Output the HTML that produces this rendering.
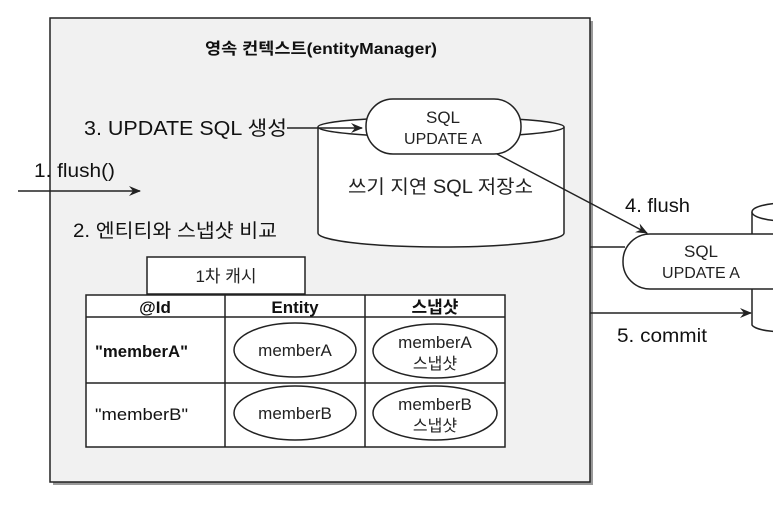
<!DOCTYPE html>
<html><head><meta charset="utf-8"><style>
html,body{margin:0;padding:0;background:#fff;}
svg{display:block;font-family:"Liberation Sans","Noto Sans CJK KR",sans-serif;}
</style></head><body>
<svg width="773" height="510" viewBox="0 0 773 510" xmlns="http://www.w3.org/2000/svg">
<defs>
<marker id="ah" markerWidth="12" markerHeight="10" refX="11" refY="5" orient="auto" markerUnits="userSpaceOnUse">
<path d="M0,0 L12,5 L0,10 L4,5 Z" fill="#222"/>
</marker>
</defs>
<rect x="53" y="21" width="540" height="464" fill="#999"/>
<rect x="50" y="18" width="540" height="464" fill="#f1f1f1" stroke="#222" stroke-width="1.5"/>
<text x="205" y="54" font-size="16" font-weight="bold" fill="#111" textLength="232" lengthAdjust="spacingAndGlyphs">영속 컨텍스트(entityManager)</text>

<!-- cylinder -->
<path d="M318,127 L318,233 A123,14 0 0 0 564,233 L564,127" fill="#fff" stroke="#222" stroke-width="1.5"/>
<ellipse cx="441" cy="127" rx="123" ry="10" fill="#fff" stroke="#222" stroke-width="1.5"/>
<rect x="366" y="99" width="155" height="55" rx="27" fill="#fff" stroke="#222" stroke-width="1.5"/>
<text x="443" y="123" text-anchor="middle" font-size="17" fill="#222">SQL</text>
<text x="443" y="144" text-anchor="middle" font-size="16" fill="#222">UPDATE A</text>
<text x="348" y="193" font-size="19" fill="#222" textLength="185" lengthAdjust="spacingAndGlyphs">쓰기 지연 SQL 저장소</text>

<text x="84" y="135" font-size="20" fill="#111" textLength="203" lengthAdjust="spacingAndGlyphs">3. UPDATE SQL 생성</text>
<line x1="287" y1="128" x2="362" y2="128" stroke="#222" stroke-width="1.5" marker-end="url(#ah)"/>

<text x="34" y="177" font-size="19" fill="#111" textLength="81" lengthAdjust="spacingAndGlyphs">1. flush()</text>
<line x1="18" y1="191" x2="140" y2="191" stroke="#222" stroke-width="1.5" marker-end="url(#ah)"/>
<text x="73" y="237" font-size="19" fill="#111" textLength="204" lengthAdjust="spacingAndGlyphs">2. 엔티티와 스냅샷 비교</text>

<!-- table -->
<rect x="147" y="257" width="158" height="37" fill="#fff" stroke="#222" stroke-width="1.5"/>
<text x="226" y="282" text-anchor="middle" font-size="17" fill="#222">1차 캐시</text>
<rect x="86" y="295" width="419" height="152" fill="#fff" stroke="#222" stroke-width="1.5"/>
<line x1="86" y1="317" x2="505" y2="317" stroke="#222" stroke-width="1.5"/>
<line x1="86" y1="383" x2="505" y2="383" stroke="#222" stroke-width="1.5"/>
<line x1="225" y1="295" x2="225" y2="447" stroke="#222" stroke-width="1.5"/>
<line x1="365" y1="295" x2="365" y2="447" stroke="#222" stroke-width="1.5"/>
<text x="155" y="313" text-anchor="middle" font-size="17" font-weight="bold" fill="#111">@Id</text>
<text x="295" y="313" text-anchor="middle" font-size="17" font-weight="bold" fill="#111">Entity</text>
<text x="435" y="313" text-anchor="middle" font-size="17" font-weight="bold" fill="#111">스냅샷</text>
<text x="95" y="357" font-size="17" font-weight="bold" fill="#111" textLength="93" lengthAdjust="spacingAndGlyphs">"memberA"</text>
<text x="95" y="420" font-size="17" fill="#111" textLength="93" lengthAdjust="spacingAndGlyphs">"memberB"</text>
<ellipse cx="295" cy="350" rx="61" ry="27" fill="#fff" stroke="#222" stroke-width="1.5"/>
<text x="295" y="356" text-anchor="middle" font-size="17" fill="#222">memberA</text>
<ellipse cx="295" cy="413" rx="61" ry="27" fill="#fff" stroke="#222" stroke-width="1.5"/>
<text x="295" y="419" text-anchor="middle" font-size="17" fill="#222">memberB</text>
<ellipse cx="435" cy="351" rx="62" ry="27" fill="#fff" stroke="#222" stroke-width="1.5"/>
<text x="435" y="348" text-anchor="middle" font-size="17" fill="#222">memberA</text>
<text x="435" y="369" text-anchor="middle" font-size="16" fill="#222">스냅샷</text>
<ellipse cx="435" cy="413" rx="62" ry="27" fill="#fff" stroke="#222" stroke-width="1.5"/>
<text x="435" y="410" text-anchor="middle" font-size="17" fill="#222">memberB</text>
<text x="435" y="431" text-anchor="middle" font-size="16" fill="#222">스냅샷</text>

<!-- right side -->
<path d="M752,212 L752,325 A30,8 0 0 0 800,330 L800,212" fill="#fff" stroke="#222" stroke-width="1.5"/>
<ellipse cx="785" cy="212" rx="33" ry="9" fill="#fff" stroke="#222" stroke-width="1.5"/>
<line x1="590" y1="247" x2="625" y2="247" stroke="#222" stroke-width="1.5"/>
<rect x="623" y="234" width="200" height="55" rx="27" fill="#fff" stroke="#222" stroke-width="1.5"/>
<text x="701" y="257" text-anchor="middle" font-size="17" fill="#222">SQL</text>
<text x="701" y="278" text-anchor="middle" font-size="16" fill="#222">UPDATE A</text>
<line x1="497" y1="154" x2="647" y2="233" stroke="#222" stroke-width="1.5" marker-end="url(#ah)"/>
<text x="625" y="212" font-size="19" fill="#111" textLength="65" lengthAdjust="spacingAndGlyphs">4. flush</text>
<line x1="590" y1="313" x2="751" y2="313" stroke="#222" stroke-width="1.5" marker-end="url(#ah)"/>
<text x="617" y="342" font-size="19" fill="#111" textLength="90" lengthAdjust="spacingAndGlyphs">5. commit</text>
</svg>
</body></html>
